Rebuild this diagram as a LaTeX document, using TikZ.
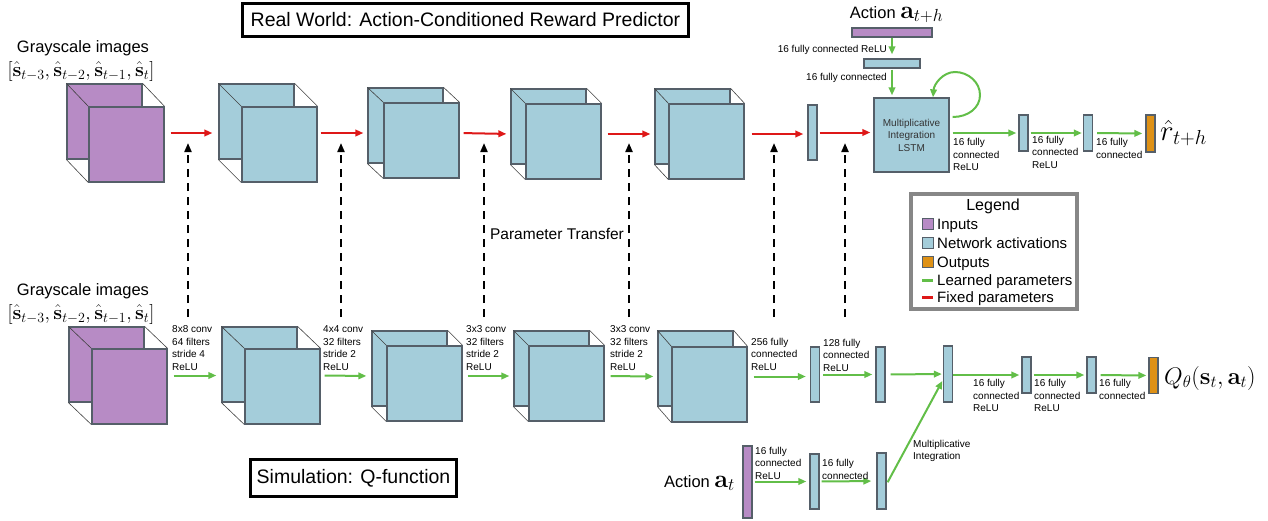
\documentclass[tikz,border=0pt]{standalone}
\usepackage{fix-cm}
\usepackage{amsmath}
\usepackage[no-math]{fontspec}
\setmainfont{Liberation Sans}
\usetikzlibrary{arrows.meta, calc}

\definecolor{inputcol}{RGB}{183,139,197}
\definecolor{actcol}{RGB}{164,205,218}
\definecolor{outcol}{RGB}{222,145,22}
\definecolor{learncol}{RGB}{98,190,72}
\definecolor{fixcol}{RGB}{222,24,24}
\definecolor{edgecol}{RGB}{85,95,105}
\definecolor{legendgray}{RGB}{135,135,135}

% feature map: name, back face top-left x y, front offset dx dy, colour
\newcommand{\fmap}[6]{%
  \node[face, fill=#6] (#1b) at (#2+37.5,#3+37.5) {};
  \draw[edge] (#1b.north west) -- ++(#4,#5) (#1b.north east) -- ++(#4,#5)
    (#1b.south west) -- ++(#4,#5);
  \node[face, fill=#6] (#1f) at (#2+#4+37.5,#3+#5+37.5) {};
  \coordinate (#1i) at ($(#1b.west)+(0,#5/2)$);
  \coordinate (#1o) at ($(#1f.east)+(0,-#5/2)$);
}

\begin{document}
\begin{tikzpicture}[x=1pt, y=-1pt,
    face/.style={draw=edgecol, line width=1.2pt, minimum size=75pt, inner sep=0pt},
    edge/.style={draw=black!75, line width=0.6pt},
    bar/.style={draw=edgecol, line width=1.3pt, fill=actcol, inner sep=0pt, minimum width=9pt},
    key/.style={draw=edgecol, line width=1pt, minimum size=11pt, inner sep=0pt},
    keytext/.style={anchor=base west, inner sep=0pt, font=\fontsize{15}{18}\selectfont},
    fixed/.style={draw=fixcol, line width=2pt, -{Triangle[length=8pt,width=6.5pt]}},
    learned/.style={draw=learncol, line width=2pt, -{Triangle[length=8pt,width=6.5pt]}},
    transfer/.style={line width=2pt, dash pattern=on 8pt off 6pt, -{Triangle[length=9pt,width=7pt]}},
    lbl/.style={inner sep=0pt, align=left, font=\fontsize{10}{12.5}\selectfont},
    big/.style={inner sep=0pt, font=\fontsize{16.5}{20}\selectfont},
    title/.style={draw, line width=3pt, inner sep=0pt, font=\fontsize{19.5}{23}\selectfont}]
  \useasboundingbox (0,0) rectangle (1268,520);

  % titles
  \node[title, minimum width=446pt, minimum height=33pt] (realtitle) at (465.5,20)
    {Real World: Action-Conditioned Reward Predictor};
  \node[title, minimum width=206pt, minimum height=37pt] (simtitle) at (353.5,478)
    {Simulation: Q-function};

  % real world row
  \node[big, anchor=base] (grayA) at (83,52) {Grayscale images};
  \node[inner sep=0pt, anchor=base, font=\fontsize{20}{24}\selectfont] (statesA) at (81,76)
    {$[\hat{\mathbf{s}}_{t-3}, \hat{\mathbf{s}}_{t-2}, \hat{\mathbf{s}}_{t-1}, \hat{\mathbf{s}}_t]$};
  \fmap{t0}{67}{84}{22}{23}{inputcol}
  \fmap{t1}{219}{84}{23}{23}{actcol}
  \fmap{t2}{368}{88}{16}{15}{actcol}
  \fmap{t3}{511}{89}{15}{15}{actcol}
  \fmap{t4}{655}{89}{14}{15}{actcol}
  \node[bar, minimum height=55pt] (tb1) at (812.5,132.5) {};
  \node[bar, minimum width=75pt, minimum height=74pt, align=center, text=black!80,
    font=\fontsize{10}{12.5}\selectfont] (lstm) at (911.5,135) {Multiplicative\\Integration\\LSTM};
  \node[bar, minimum height=36pt] (tr1) at (1023.5,133) {};
  \node[bar, minimum height=36pt] (tr2) at (1088,133) {};
  \node[bar, fill=outcol, minimum height=37pt] (tr3) at (1150.5,133.5) {};
  \node[inner sep=0pt, anchor=west, font=\fontsize{29}{34}\selectfont] (rhat) at (1160,133) {$\hat{r}_{t+h}$};

  \node[big, anchor=base] (acttop) at (896.5,18)
    {Action {\fontsize{25}{30}\selectfont$\mathbf{a}_{t+h}$}};
  \node[bar, fill=inputcol, minimum width=80pt, minimum height=9pt] (ain) at (892,32.5) {};
  \node[bar, minimum width=56pt, minimum height=9pt] (afc) at (892,63.5) {};

  \draw[fixed, shorten <=6pt, shorten >=6pt] (t0o) -- (t1i);
  \draw[fixed, shorten <=3pt, shorten >=4pt] (t1o) -- (t2i);
  \draw[fixed, shorten <=4pt, shorten >=4pt] (t2o) -- (t3i);
  \draw[fixed, shorten <=6pt, shorten >=4pt] (t3o) -- (t4i);
  \draw[fixed, shorten <=7pt, shorten >=4pt] (t4o) -- (tb1.west |- t4o);
  \draw[fixed, shorten <=2pt, shorten >=3pt] (tb1.east) -- (lstm.west |- tb1.east);
  \draw[learned, shorten <=3pt, shorten >=2pt] (lstm.east |- tr1) -- (tr1.west);
  \draw[learned, shorten <=2pt, shorten >=1pt] (tr1) -- (tr2);
  \draw[learned, shorten <=4pt, shorten >=3pt] (tr2) -- (tr3);
  \draw[learned, shorten >=4pt] (ain) -- (afc);
  \draw[learned, shorten <=1pt, shorten >=2pt] (afc) -- (afc |- lstm.north);
  % recurrent loop
  \draw[learned] ([xshift=3pt,yshift=18pt]lstm.east) .. controls (968,117) and (980,108) .. (980,95)
    .. controls (980,82) and (968,72) .. (955,72)
    .. controls (943,72) and (934,84) .. ([xshift=21.5pt]lstm.north);

  \node[lbl, anchor=base east] (lfa) at (887,52.5) {16 fully connected ReLU};
  \node[lbl, anchor=base east] (lfb) at (887,80.5) {16 fully connected};
  \node[lbl, anchor=north west] (lr1) at (953,138.5) {16 fully\\connected\\ReLU};
  \node[lbl, anchor=north west] (lr2) at (1032,136) {16 fully\\connected\\ReLU};
  \node[lbl, anchor=north west] (lr3) at (1096,138.5) {16 fully\\connected};

  % simulation row
  \node[big, anchor=base] (grayB) at (83,295) {Grayscale images};
  \node[inner sep=0pt, anchor=base, font=\fontsize{20}{24}\selectfont] (statesB) at (81,319)
    {$[\hat{\mathbf{s}}_{t-3}, \hat{\mathbf{s}}_{t-2}, \hat{\mathbf{s}}_{t-1}, \hat{\mathbf{s}}_t]$};
  \fmap{b0}{69}{327}{23}{22}{inputcol}
  \fmap{b1}{222}{327}{23}{22}{actcol}
  \fmap{b2}{372}{331}{15}{15}{actcol}
  \fmap{b3}{514}{331}{15}{15}{actcol}
  \fmap{b4}{658}{331}{14}{16}{actcol}
  \node[bar, minimum height=55pt] (ba) at (815,374.5) {};
  \node[bar, minimum height=55pt] (bb) at (880.5,374.5) {};
  \node[bar, minimum height=56pt] (bc) at (948,374) {};
  \node[bar, minimum height=36pt] (bd) at (1026.5,375) {};
  \node[bar, minimum height=36pt] (be) at (1091.5,375) {};
  \node[bar, fill=outcol, minimum height=36pt] (bo) at (1153.5,375.5) {};
  \node[inner sep=0pt, anchor=west, font=\fontsize{24}{29}\selectfont] (qval) at (1164,378)
    {$Q_\theta(\mathbf{s}_t, \mathbf{a}_t)$};

  \node[big, anchor=base east] (actbot) at (735,487)
    {Action {\fontsize{25}{30}\selectfont$\mathbf{a}_t$}};
  \node[bar, fill=inputcol, minimum height=72pt] (bin) at (747.5,482) {};
  \node[bar, minimum height=55pt] (bf) at (814.5,481.5) {};
  \node[bar, minimum height=56pt] (bg) at (881.5,481) {};

  \draw[learned, shorten <=6pt, shorten >=5pt] (b0o) -- (b1i);
  \draw[learned, shorten <=4pt, shorten >=5pt] (b1o) -- (b2i);
  \draw[learned, shorten <=5pt, shorten >=4pt] (b2o) -- (b3i);
  \draw[learned, shorten <=6pt, shorten >=4pt] (b3o) -- (b4i);
  \draw[learned, shorten <=6pt, shorten >=4pt] (b4o) -- (ba.west |- b4o);
  \draw[learned, shorten <=3pt, shorten >=3pt] (ba) -- (bb);
  \draw[learned, shorten <=5pt, shorten >=1pt] (bb) -- (bc);
  \draw[learned, shorten >=2pt] (bc.east |- bd) -- (bd.west);
  \draw[learned, shorten <=2pt, shorten >=2pt] (bd) -- (be);
  \draw[learned, shorten <=4pt, shorten >=2pt] (be) -- (bo);
  \draw[learned, shorten <=2pt, shorten >=3pt] (bin.east |- bf) -- (bf.west);
  \draw[learned, shorten <=2pt, shorten >=5pt] (bf) -- (bg);
  \draw[learned, shorten <=2pt, shorten >=1pt] ([yshift=-3pt]bg.east) -- ([yshift=-6pt]bc.west);

  \node[lbl, anchor=south west] (lc1) at (172,370.5) {8x8 conv\\64 filters\\stride 4\\ReLU};
  \node[lbl, anchor=south west] (lc2) at (323,370.5) {4x4 conv\\32 filters\\stride 2\\ReLU};
  \node[lbl, anchor=south west] (lc3) at (466,370.5) {3x3 conv\\32 filters\\stride 2\\ReLU};
  \node[lbl, anchor=south west] (lc4) at (610,370.5) {3x3 conv\\32 filters\\stride 2\\ReLU};
  \node[lbl, anchor=south west] (lc5) at (751,370.5) {256 fully\\connected\\ReLU};
  \node[lbl, anchor=south west] (lc6) at (823,371.5) {128 fully\\connected\\ReLU};
  \node[lbl, anchor=north west] (lc7) at (973,379.5) {16 fully\\connected\\ReLU};
  \node[lbl, anchor=north west] (lc8) at (1034,379.5) {16 fully\\connected\\ReLU};
  \node[lbl, anchor=north west] (lc9) at (1099,379.5) {16 fully\\connected};
  \node[lbl, anchor=south west] (la1) at (755,479.5) {16 fully\\connected\\ReLU};
  \node[lbl, anchor=south west] (la2) at (822,479.5) {16 fully\\connected};
  \node[lbl, anchor=north west] (lmi) at (913,440) {Multiplicative\\Integration};

  % parameter transfer
  \foreach \x in {188,341,484,629,774,845} {
    \coordinate (sim\x) at (\x,317);
    \coordinate (real\x) at (\x,143);
    \draw[transfer] (sim\x) -- (real\x);
  }
  \node[inner sep=0pt, anchor=base, font=\fontsize{15.5}{19}\selectfont] (ptrans)
    at (557,239.5) {Parameter Transfer};

  % legend
  \node[draw=legendgray, line width=4pt, minimum width=166pt, minimum height=115pt] (legend)
    at (994,251.5) {};
  \node[inner sep=0pt, anchor=base, font=\fontsize{16}{19}\selectfont] (legtitle) at (993,210.5) {Legend};
  \node[key, fill=inputcol] (kin) at (927.5,224) {};
  \node[keytext] (tin) at (937,229.5) {Inputs};
  \node[key, fill=actcol] (kact) at (927.5,243) {};
  \node[keytext] (tact) at (937,248.5) {Network activations};
  \node[key, fill=outcol] (kout) at (927.5,262) {};
  \node[keytext] (tout) at (937,267.5) {Outputs};
  \draw[learncol, line width=3pt] (922,280) -- (933,280);
  \node[keytext] (tlearn) at (937,285.5) {Learned parameters};
  \draw[fixcol, line width=3pt] (922,297) -- (933,297);
  \node[keytext] (tfix) at (937,302.5) {Fixed parameters};
\end{tikzpicture}
\end{document}
